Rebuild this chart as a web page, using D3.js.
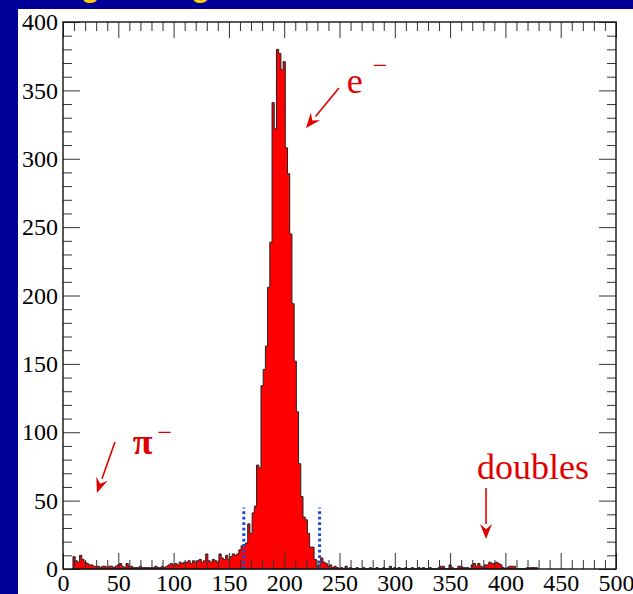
<!DOCTYPE html>
<html>
<head>
<meta charset="utf-8">
<title></title>
<script src="https://cdn.jsdelivr.net/npm/d3@7"></script>
<style>
  body { margin: 0; background: #000099; overflow: hidden; }
  svg { display: block; }
</style>
</head>
<body>
<div id="chart"></div>
<script>
  /* ------------------
    data
  ------------------ */

  // histogram, bins 2 wide, first bin starts at 9
  var binStart = 9, binWidth = 2;
  var counts = [
    9, 6, 5, 10, 7, 5, 4, 3, 3, 2,
    2, 2, 1, 2, 2, 1, 2, 2, 1, 2,
    3, 4, 2, 1, 4, 2, 2, 1, 1, 1,
    2, 1, 1, 1, 1, 1, 1, 2, 1, 1,
    2, 1, 2, 3, 4, 3, 4, 3, 5, 4,
    5, 5, 6, 4, 6, 5, 6, 7, 5, 6,
    11, 6, 5, 7, 6, 5, 11, 8, 7, 10,
    7, 9, 11, 10, 11, 14, 17, 18, 19, 33,
    26, 41, 46, 76, 74, 134, 146, 163, 206, 239,
    341, 322, 380, 377, 365, 371, 308, 289, 245, 194,
    152, 115, 77, 53, 38, 36, 26, 16, 16, 7,
    2, 3, 8, 5, 4, 2, 3, 1, 2, 1,
    0, 1, 0, 2, 0, 1, 0, 0, 1, 0,
    0, 1, 0, 0, 1, 0, 0, 1, 0, 0,
    1, 0, 0, 2, 0, 1, 0, 1, 0, 0,
    1, 0, 0, 1, 0, 0, 1, 0, 1, 0,
    0, 1, 0, 0, 0, 1, 2, 2, 0, 0,
    3, 1, 0, 0, 2, 2, 1, 1, 1, 0,
    3, 4, 2, 4, 2, 1, 3, 3, 5, 4,
    4, 5, 4, 3, 1, 0, 1, 2, 2, 2,
    0, 0, 0, 0, 0, 1, 1, 1, 1, 1
  ];

  var xMajor = [0, 50, 100, 150, 200, 250, 300, 350, 400, 450, 500];
  var yMajor = [0, 50, 100, 150, 200, 250, 300, 350, 400];

  // electron selection window (dotted lines)
  var cuts = [163.5, 232];
  var cutHeight = 45;

  var title = 'Lead glass signal';

  /* ------------------
    setup
  ------------------ */

  var W = 633, H = 594;
  var svg = d3.select('#chart').append('svg').attr('width', W).attr('height', H);

  var x = d3.scaleLinear().domain([0, 500]).range([63, 616]);
  var y = d3.scaleLinear().domain([0, 400]).range([569, 22]);

  var red = '#e00000';
  var serif = '"Liberation Serif", "Times New Roman", serif';

  svg.append('rect').attr('width', W).attr('height', H).attr('fill', '#000099');

  // title, mostly cut off above the window
  svg.append('text')
    .attr('x', 3).attr('y', -3)
    .attr('font-family', '"Liberation Sans", Arial, sans-serif')
    .attr('font-weight', 'bold').attr('font-size', 30)
    .attr('fill', '#ffcc00')
    .text(title);

  svg.append('rect').attr('x', 18).attr('y', 9).attr('width', W - 18).attr('height', H - 9).attr('fill', '#fff');

  /* ------------------
    histogram
  ------------------ */

  var pts = [[binStart, 0]];
  counts.forEach(function(c, i) { pts.push([binStart + i * binWidth, c]); });
  pts.push([binStart + counts.length * binWidth, 0]);

  var area = d3.area()
    .curve(d3.curveStepAfter)
    .x(function(d) { return x(d[0]); })
    .y0(y(0))
    .y1(function(d) { return y(d[1]); });

  svg.append('path')
    .datum(pts)
    .attr('d', area)
    .attr('fill', '#ff0000')
    .attr('stroke', '#222')
    .attr('stroke-width', 1);

  // dotted cut lines
  svg.selectAll('.cut').data(cuts).enter().append('line')
    .attr('class', 'cut')
    .attr('x1', function(d) { return x(d); }).attr('x2', function(d) { return x(d); })
    .attr('y1', y(0)).attr('y2', y(cutHeight))
    .attr('stroke', '#1a4ad4').attr('stroke-width', 3)
    .attr('stroke-dasharray', '2.7,2.8');

  /* ------------------
    axes
  ------------------ */

  var xMinor = d3.range(0, 501, 10).filter(function(v) { return v % 50; });
  var yMinor = d3.range(0, 401, 10).filter(function(v) { return v % 50; });

  function styleAxis(g) {
    g.select('.domain').remove();
    g.selectAll('line').attr('stroke', '#333').attr('stroke-width', 1);
    g.selectAll('text').attr('font-family', serif).attr('font-size', 24).attr('fill', '#000');
  }

  svg.append('g').attr('transform', 'translate(0,' + y(0) + ')')
    .call(d3.axisBottom(x).tickValues(xMajor).tickSize(-16).tickPadding(5).tickFormat(d3.format('d')))
    .call(styleAxis);
  svg.append('g').attr('transform', 'translate(0,' + y(0) + ')')
    .call(d3.axisBottom(x).tickValues(xMinor).tickSize(-9).tickFormat(''))
    .call(styleAxis);
  svg.append('g').attr('transform', 'translate(0,' + y(400) + ')')
    .call(d3.axisTop(x).tickValues(xMajor).tickSize(-16).tickFormat(''))
    .call(styleAxis);
  svg.append('g').attr('transform', 'translate(0,' + y(400) + ')')
    .call(d3.axisTop(x).tickValues(xMinor).tickSize(-9).tickFormat(''))
    .call(styleAxis);

  svg.append('g').attr('transform', 'translate(' + x(0) + ',0)')
    .call(d3.axisLeft(y).tickValues(yMajor).tickSize(-17).tickPadding(5).tickFormat(d3.format('d')))
    .call(styleAxis);
  svg.append('g').attr('transform', 'translate(' + x(0) + ',0)')
    .call(d3.axisLeft(y).tickValues(yMinor).tickSize(-9).tickFormat(''))
    .call(styleAxis);
  svg.append('g').attr('transform', 'translate(' + x(500) + ',0)')
    .call(d3.axisRight(y).tickValues(yMajor).tickSize(-17).tickFormat(''))
    .call(styleAxis);
  svg.append('g').attr('transform', 'translate(' + x(500) + ',0)')
    .call(d3.axisRight(y).tickValues(yMinor).tickSize(-9).tickFormat(''))
    .call(styleAxis);

  svg.append('rect')
    .attr('x', x(0)).attr('y', y(400))
    .attr('width', x(500) - x(0)).attr('height', y(0) - y(400))
    .attr('fill', 'none').attr('stroke', '#111').attr('stroke-width', 1.4);

  /* ------------------
    annotations
  ------------------ */

  function arrow(x1, y1, x2, y2) {
    var a = Math.atan2(y2 - y1, x2 - x1), len = 15, half = 6;
    var bx = x2 - len * Math.cos(a), by = y2 - len * Math.sin(a);
    svg.append('line')
      .attr('x1', x1).attr('y1', y1).attr('x2', bx).attr('y2', by)
      .attr('stroke', red).attr('stroke-width', 1.6);
    svg.append('path')
      .attr('d', 'M' + x2 + ',' + y2 +
        'L' + (bx + half * Math.sin(a)) + ',' + (by - half * Math.cos(a)) +
        'L' + (bx + 0.35 * len * Math.cos(a)) + ',' + (by + 0.35 * len * Math.sin(a)) +
        'L' + (bx - half * Math.sin(a)) + ',' + (by + half * Math.cos(a)) + 'Z')
      .attr('fill', red);
  }

  function label(xv, yv, txt, size, weight) {
    svg.append('text')
      .attr('x', x(xv)).attr('y', y(yv))
      .attr('font-family', serif).attr('font-size', size)
      .attr('font-weight', weight || 'normal')
      .attr('fill', red)
      .text(txt);
  }

  // electrons
  label(256.5, 348, 'e', 36);
  label(280, 362, '\u2212', 26);
  arrow(x(249.5), y(351.7), x(219.7), y(322.5));

  // pions
  label(63, 84, '\u03c0', 36, 'bold');
  label(85.5, 93.5, '\u2212', 26);
  arrow(x(47), y(92.9), x(30.7), y(55.6));

  // doubles
  label(374.3, 65.8, 'doubles', 36);
  arrow(x(382.5), y(59.2), x(382.5), y(21.9));
</script>
</body>
</html>
